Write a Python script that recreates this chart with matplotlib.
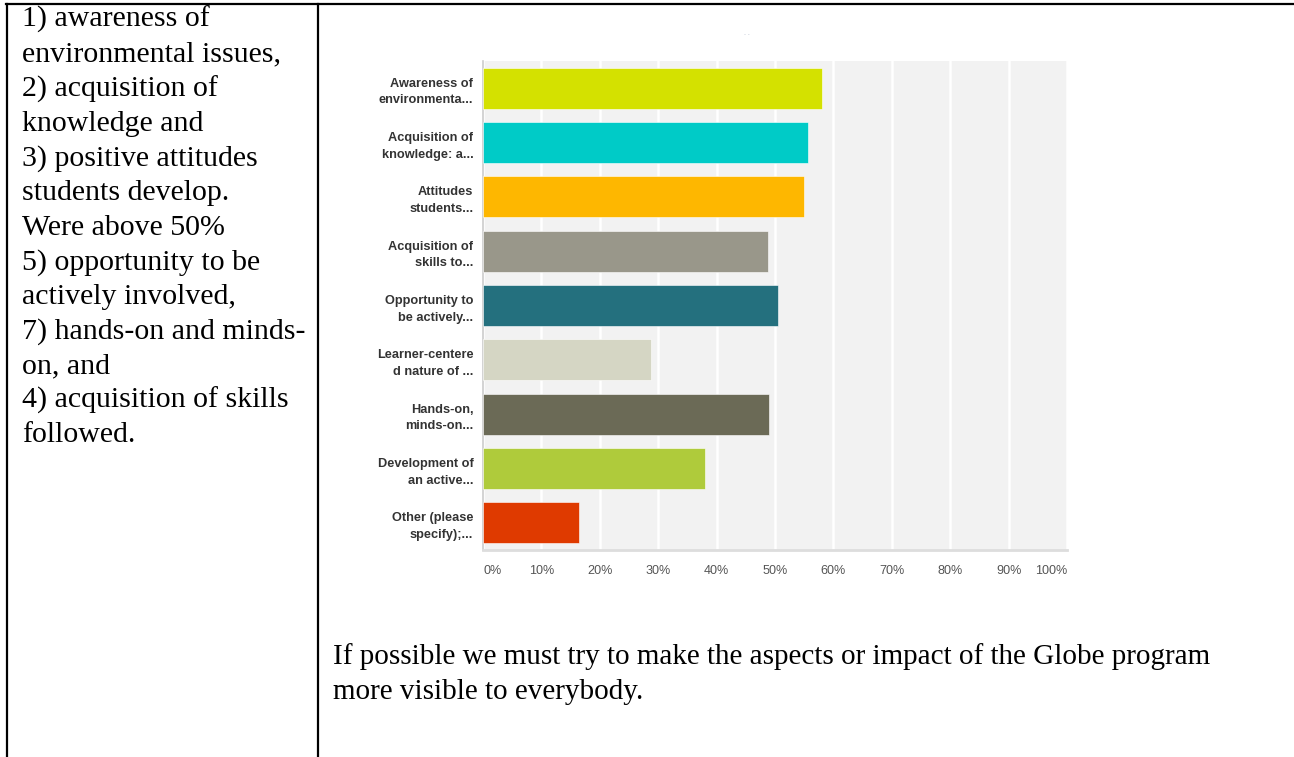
import matplotlib
matplotlib.use('Agg')
import matplotlib.pyplot as plt
from matplotlib.lines import Line2D

W, H = 1294, 757

labels = ['Awareness of\nenvironmenta...', 'Acquisition of\nknowledge: a...', 'Attitudes\nstudents...',
          'Acquisition of\nskills to...', 'Opportunity to\nbe actively...', 'Learner-centere\nd nature of ...',
          'Hands-on,\nminds-on...', 'Development of\nan active...', 'Other (please\nspecify);...']
values = [58.1, 55.7, 55.0, 48.8, 50.5, 28.7, 49.0, 38.0, 16.4]
colors = ['#d4e100', '#00cbc7', '#feb700', '#99978a', '#24707e',
          '#d5d6c4', '#6b6a56', '#afcb3b', '#df3a00']
ticks = list(range(0, 101, 10))
tick_labels = ['{}%'.format(t) for t in ticks]

left_note = ['1) awareness of', 'environmental issues,', '2) acquisition of', 'knowledge and',
             '3) positive attitudes', 'students develop.', 'Were above 50%', '5) opportunity to be',
             'actively involved,', '7) hands-on and minds-', 'on, and', '4) acquisition of skills',
             'followed.']
bottom_note = ['If possible we must try to make the aspects or impact of the Globe program',
               'more visible to everybody.']

fig = plt.figure(figsize=(W / 100, H / 100), dpi=100)
fig.patch.set_facecolor('white')

def fx(px):
    return px / W

def fy(py):
    return 1 - py / H

# table borders
for x0, y0, x1, y1 in [(6, 4, W, 4), (6.5, 4, 6.5, H), (317.5, 4, 317.5, H)]:
    fig.add_artist(Line2D([fx(x0), fx(x1)], [fy(y0), fy(y1)], color='black', lw=1.6,
                          transform=fig.transFigure))

# cell text, one line at a time on a fixed baseline step
for i, line in enumerate(left_note):
    fig.text(fx(22), fy(27 + 34.6 * i), line, family='Liberation Serif', fontsize=21.5,
             va='baseline', ha='left', color='black')
for i, line in enumerate(bottom_note):
    fig.text(fx(333), fy(664 + 35 * i), line, family='Liberation Serif', fontsize=21,
             va='baseline', ha='left', color='black')

# faint leftover marks above the chart
fig.text(fx(747), fy(35), '- -', fontsize=4, color='#b8c0d0', ha='center', va='center')

ax = fig.add_axes([fx(483), fy(550), fx(1067) - fx(483), fy(61) - fy(550)])
ax.set_facecolor('#f2f2f2')
ypos = list(range(len(values)))
ax.barh(ypos, values, height=0.75, color=colors, edgecolor='white', linewidth=0.4, zorder=3)
ax.set_xlim(0, 100)
ax.set_ylim(len(values) - 0.5, -0.5)
ax.set_xticks(ticks)
ax.xaxis.grid(True, color='white', lw=1.8, zorder=1)
ax.set_axisbelow(True)
ax.set_yticks(ypos)
ax.set_yticklabels(labels, fontsize=9.2, fontweight='bold', color='#333333',
                   family='Liberation Sans', linespacing=1.5)
ax.set_xticklabels(tick_labels, fontsize=9.1, color='#555555', family='Liberation Sans')
xt = ax.get_xticklabels()
xt[0].set_ha('left')
xt[-1].set_ha('right')
ax.tick_params(axis='x', length=0, pad=11)
ax.tick_params(axis='y', length=0, pad=7)
for s in ['top', 'right']:
    ax.spines[s].set_visible(False)
ax.spines['left'].set_color('#cccccc')
ax.spines['left'].set_linewidth(1.2)
ax.spines['bottom'].set_color('#dddddd')
ax.spines['bottom'].set_linewidth(2)

fig.savefig('out.png', dpi=100)
